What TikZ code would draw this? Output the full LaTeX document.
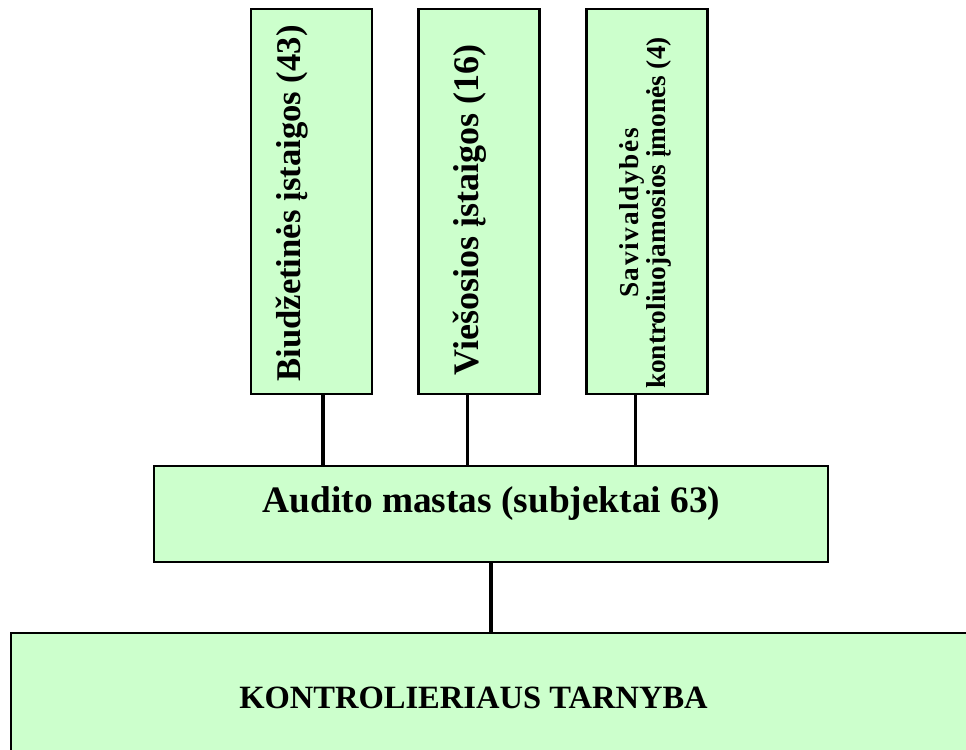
\documentclass[tikz,border=0pt]{standalone}
\usepackage{fontspec}
\setmainfont{Liberation Serif}
\usetikzlibrary{positioning}
\definecolor{boxgreen}{RGB}{204,255,204}

\begin{document}
\begin{tikzpicture}[x=0.75pt,y=-0.75pt,
      box/.style={draw=black,line width=1.8pt,fill=boxgreen,inner sep=0pt},
      col/.style={box,minimum width=90.75pt,minimum height=288.75pt},
      vtxt/.style={rotate=90,anchor=base,inner sep=0pt,font=\bfseries\fontsize{26}{30}\selectfont},
      htxt/.style={anchor=base,inner sep=0pt},
      ln/.style={line width=2.6pt}]
    \useasboundingbox (0,0) rectangle (966,749);
    \clip (0,0) rectangle (966,749);
    % top columns
    \node[col] (bud) at (311.5,201.5) {};
    \node[col] (vie) at (479,201.5) {};
    \node[col] (sav) at (647,201.5) {};
    \node[vtxt] (bud-t) at (300,203.5) {Biudžetinės įstaigos (43)};
    \node[vtxt,font=\bfseries\fontsize{27}{30}\selectfont] (vie-t) at (478,210)
          {Viešosios įstaigos (16)};
    \node[rotate=90,align=center,inner sep=0pt,
          font=\bfseries\fontsize{20.5}{16}\selectfont] (sav-t) at (645.5,213)
          {{\addfontfeature{LetterSpace=6}Savivaldybės}\\kontroliuojamosios įmonės (4)};
    % middle and bottom
    \node[box,minimum width=505.5pt,minimum height=72pt] (aud) at (491,514) {};
    \node[htxt,font=\bfseries\fontsize{28}{32}\selectfont] (aud-t) at (491.5,512)
          {Audito mastas (subjektai 63)};
    \node[box,minimum width=741.75pt,minimum height=110.25pt] (kt) at (505.5,706.5) {};
    \node[htxt,font=\bfseries\fontsize{24.4}{28}\selectfont] (kt-t) at (473.5,708)
          {KONTROLIERIAUS TARNYBA};
    % links
    \draw[ln] ([xshift=8.6pt]bud.south) -- ([xshift=8.6pt]bud.south |- aud.north);
    \draw[ln] ([xshift=-8.5pt]vie.south) -- ([xshift=-8.5pt]vie.south |- aud.north);
    \draw[ln] ([xshift=-8.5pt]sav.south) -- ([xshift=-8.5pt]sav.south |- aud.north);
    \draw[ln] (aud.south) -- (aud.south |- kt.north);
  \end{tikzpicture}
\end{document}
